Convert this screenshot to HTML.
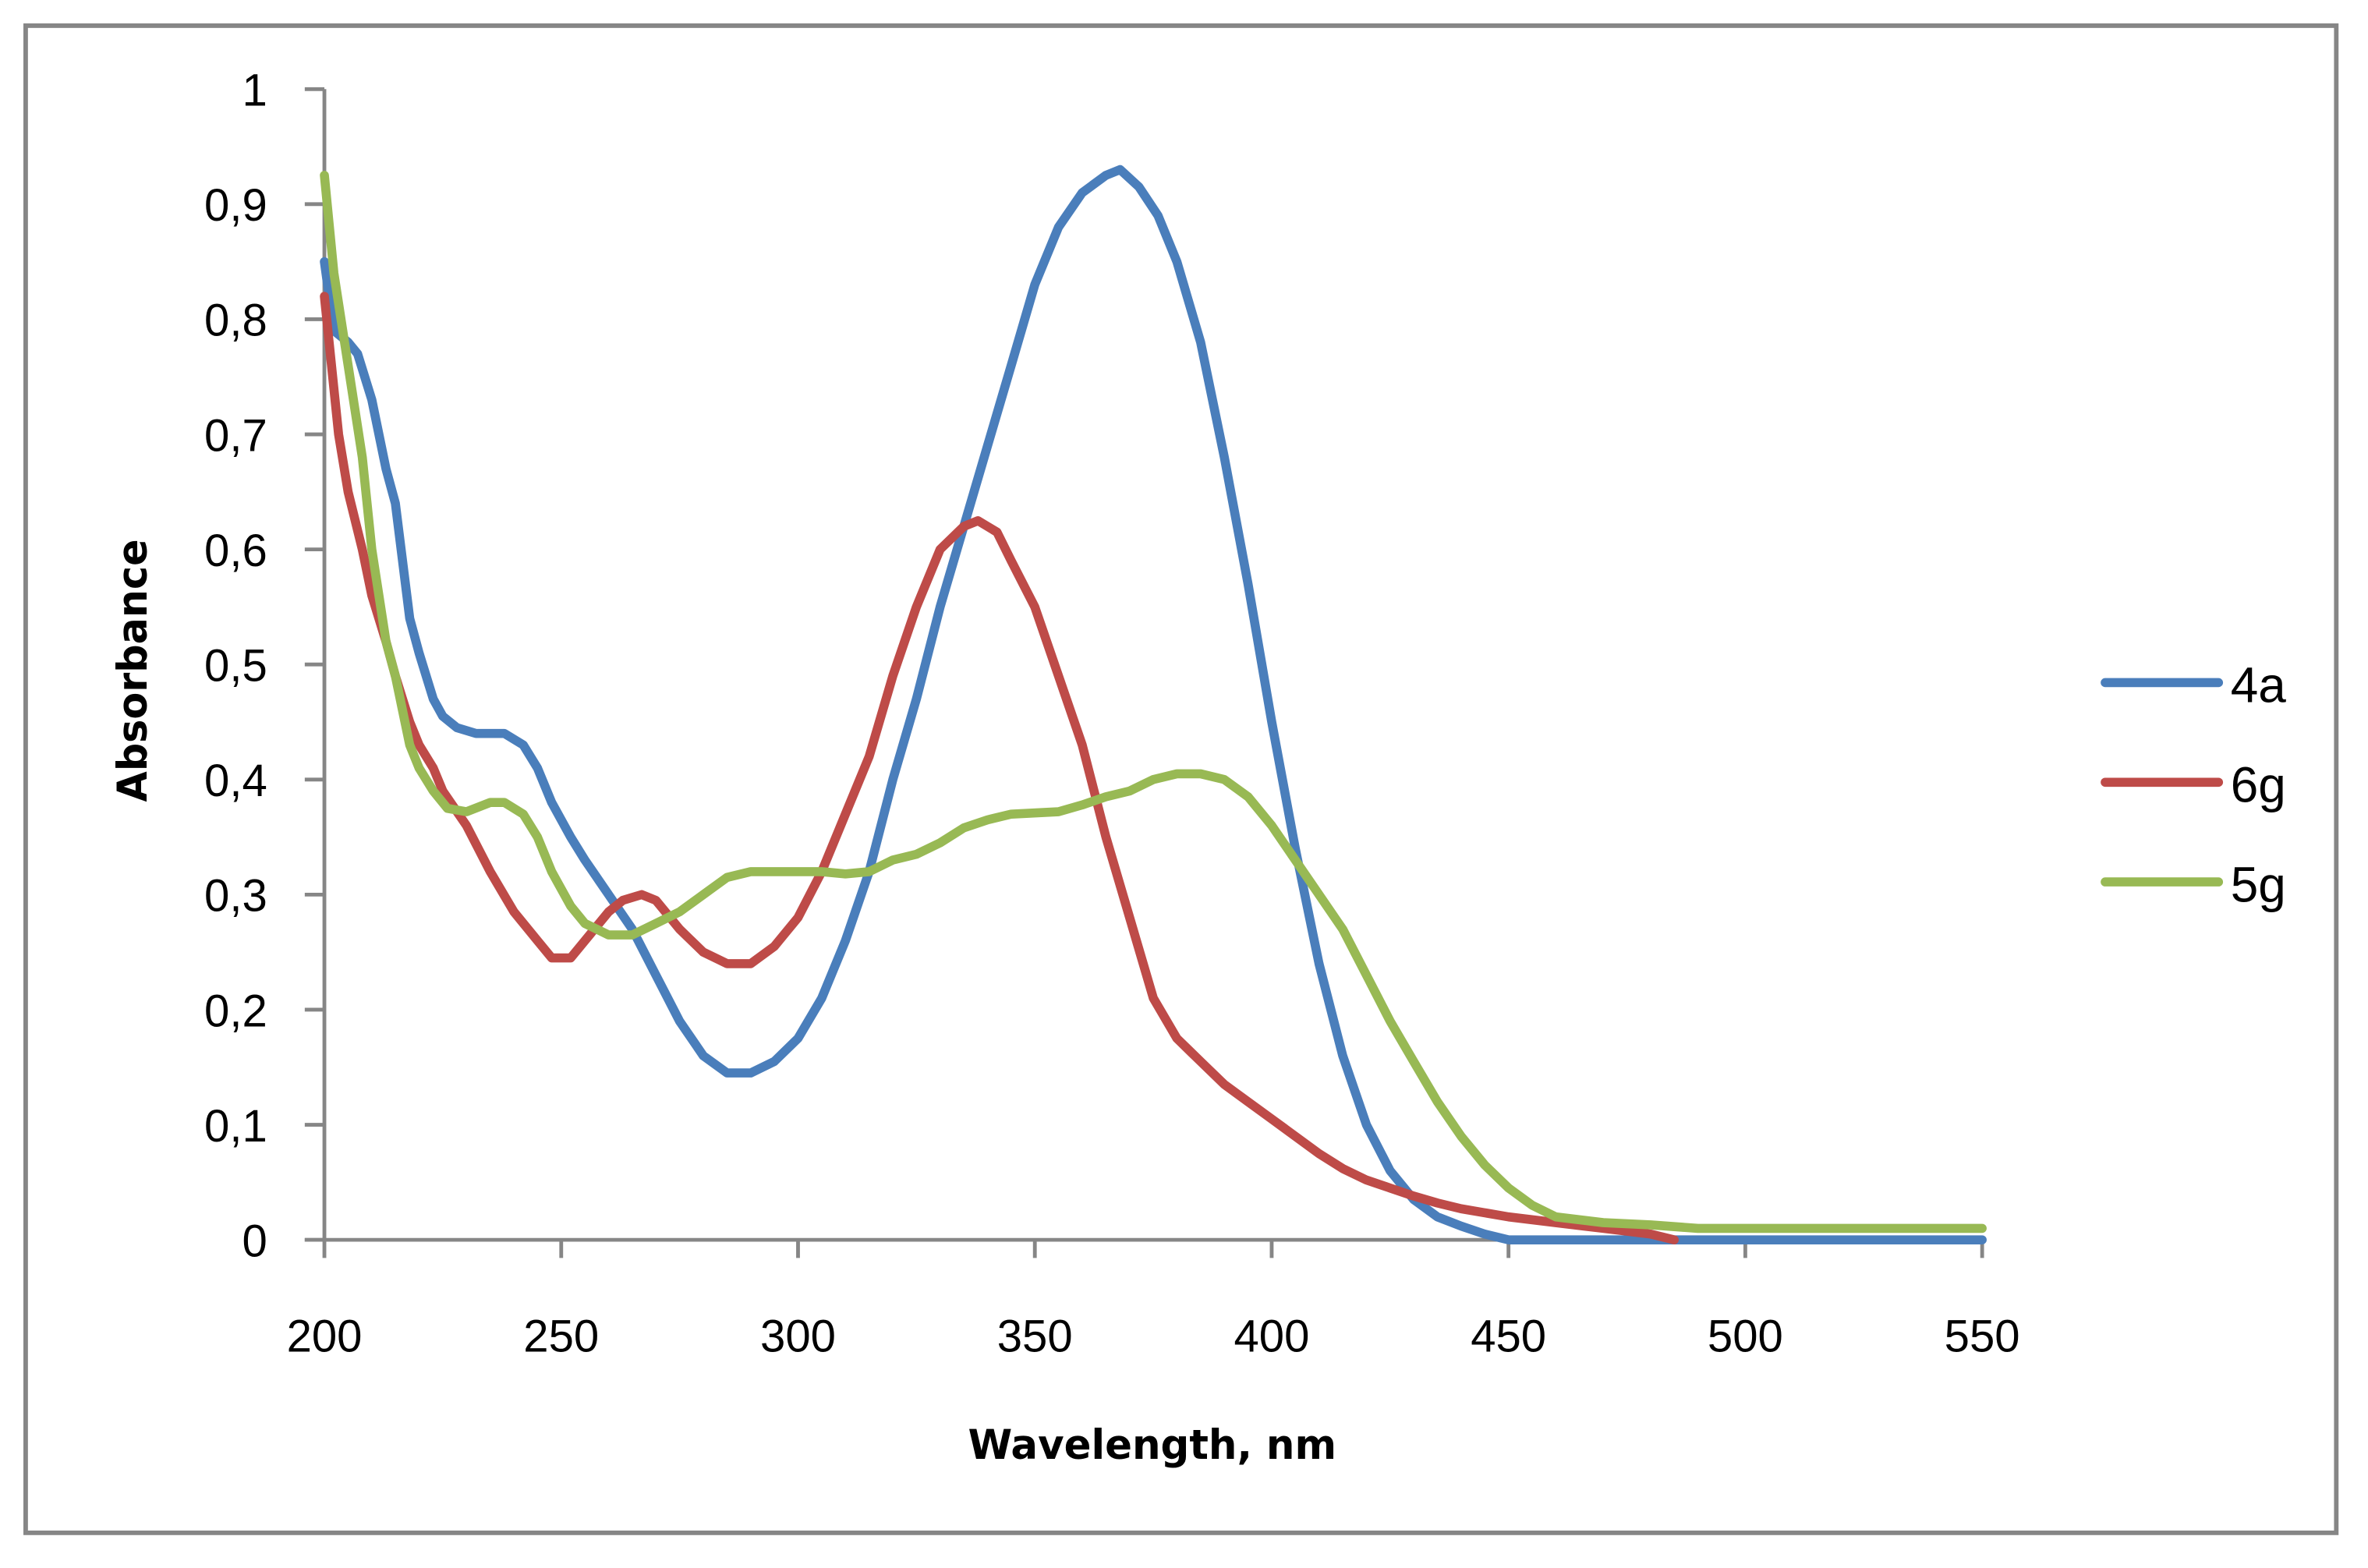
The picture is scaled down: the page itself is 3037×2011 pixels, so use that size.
<!DOCTYPE html>
<html><head><meta charset="utf-8">
<style>html,body{margin:0;padding:0;background:#fff}svg{display:block}</style>
</head><body>
<svg id="chart" width="3037" height="2011" viewBox="0 0 1568 1038.3" preserveAspectRatio="none" xmlns="http://www.w3.org/2000/svg">
<rect x="17" y="17" width="1530" height="998" fill="#fff" stroke="#868686" stroke-width="3"/>
<g id="axes"></g>
<g id="series"></g>
<g id="legend"></g>
<text x="0" y="0" transform="translate(97,444) rotate(-90)" text-anchor="middle" font-family="'DejaVu Sans',sans-serif" font-weight="bold" font-size="27" textLength="174" lengthAdjust="spacingAndGlyphs">Absorbance</text>
<text x="763" y="966" text-anchor="middle" font-family="'DejaVu Sans',sans-serif" font-weight="bold" font-size="27" textLength="244" lengthAdjust="spacingAndGlyphs">Wavelength, nm</text>
</svg>
<script>
const xTicks=[200,250,300,350,400,450,500,550];
const yTicks=[0,0.1,0.2,0.3,0.4,0.5,0.6,0.7,0.8,0.9,1];
const yTickLabels=["0","0,1","0,2","0,3","0,4","0,5","0,6","0,7","0,8","0,9","1"];
const seriesNames=["4a","6g","5g"];
const seriesColors=["#4a7ebb","#be4b48","#98b954"];
const wl4a=[200,202,205,207,210,213,215,218,220,223,225,228,232,238,242,245,248,252,255,260,265,270,275,280,285,290,295,300,305,310,315,320,325,330,335,340,345,350,355,360,365,368,372,376,380,385,390,395,400,405,410,415,420,425,430,435,440,445,450,550];
const abs4a=[0.85,0.79,0.78,0.77,0.73,0.67,0.64,0.54,0.51,0.47,0.455,0.445,0.44,0.44,0.43,0.41,0.38,0.35,0.33,0.30,0.27,0.23,0.19,0.16,0.145,0.145,0.155,0.175,0.21,0.26,0.32,0.40,0.47,0.55,0.62,0.69,0.76,0.83,0.88,0.91,0.925,0.93,0.915,0.89,0.85,0.78,0.68,0.57,0.45,0.34,0.24,0.16,0.10,0.06,0.035,0.02,0.012,0.005,0,0];
const wl6g=[200,203,205,208,210,213,215,218,220,223,225,230,235,240,245,248,252,255,260,263,267,270,275,280,285,290,295,300,305,310,315,320,325,330,335,338,342,345,350,355,360,365,370,375,380,385,390,395,400,405,410,415,420,425,430,435,440,450,460,470,480,485];
const abs6g=[0.82,0.70,0.65,0.60,0.56,0.52,0.49,0.45,0.43,0.41,0.39,0.36,0.32,0.285,0.26,0.245,0.245,0.26,0.285,0.295,0.30,0.295,0.27,0.25,0.24,0.24,0.255,0.28,0.32,0.37,0.42,0.49,0.55,0.60,0.62,0.625,0.615,0.59,0.55,0.49,0.43,0.35,0.28,0.21,0.175,0.155,0.135,0.12,0.105,0.09,0.075,0.062,0.052,0.045,0.038,0.032,0.027,0.02,0.015,0.01,0.005,0];
const wl5g=[200,202,205,208,210,213,215,218,220,223,226,230,235,238,242,245,248,252,255,260,265,270,275,280,285,290,300,305,310,315,320,325,330,335,340,345,355,360,365,370,375,380,385,390,395,400,405,410,415,420,425,430,435,440,445,450,455,460,470,480,490,550];
const abs5g=[0.925,0.84,0.76,0.68,0.60,0.52,0.49,0.43,0.41,0.39,0.375,0.372,0.38,0.38,0.37,0.35,0.32,0.29,0.275,0.265,0.265,0.275,0.285,0.30,0.315,0.32,0.32,0.32,0.318,0.32,0.33,0.335,0.345,0.358,0.365,0.37,0.372,0.378,0.385,0.39,0.40,0.405,0.405,0.40,0.385,0.36,0.33,0.30,0.27,0.23,0.19,0.155,0.12,0.09,0.065,0.045,0.03,0.02,0.015,0.013,0.01,0.01];

const NS="http://www.w3.org/2000/svg";
const X0=214.8,X1=1312.5,Y0=821,Y1=59;
const xScale=v=>X0+(v-200)/(550-200)*(X1-X0);
const yScale=v=>Y0-v*(Y0-Y1);
function mk(tag,attrs,parent){const e=document.createElementNS(NS,tag);for(const k in attrs)e.setAttribute(k,attrs[k]);parent.appendChild(e);return e;}
const axes=document.getElementById('axes');
const ya=mk('line',{x1:X0,y1:Y1,x2:X0,y2:Y0,stroke:'#868686','stroke-width':2.5},axes);


const xa=mk('line',{x1:X0-13,y1:Y0,x2:X1,y2:Y0,stroke:'#868686','stroke-width':2.5},axes);


yTicks.forEach((v,i)=>{
  const t=mk('line',{x1:X0-13,y1:yScale(v),x2:X0,y2:yScale(v),stroke:'#868686','stroke-width':2.5},axes);
  
  
  const l=mk('text',{x:177,y:yScale(v)+11,'text-anchor':'end','font-family':"'Liberation Sans',sans-serif",'font-size':30},axes);
  l.textContent=yTickLabels[i];
  
  
});
xTicks.forEach(v=>{
  const t=mk('line',{x1:xScale(v),y1:Y0,x2:xScale(v),y2:Y0+12,stroke:'#868686','stroke-width':2.5},axes);
  
  
  const l=mk('text',{x:xScale(v),y:Y0+74,'text-anchor':'middle','font-family':"'Liberation Sans',sans-serif",'font-size':30},axes);
  l.textContent=String(v);
  
  
});
const ser=document.getElementById('series');
const data=[[wl4a,abs4a],[wl6g,abs6g],[wl5g,abs5g]];
data.forEach((d,i)=>{
  const pts=d[0].map((w,j)=>xScale(w).toFixed(1)+','+yScale(d[1][j]).toFixed(1)).join(' ');
  const p=mk('polyline',{points:pts,fill:'none',stroke:seriesColors[i],'stroke-width':6,'stroke-linejoin':'round','stroke-linecap':'round'},ser);
  
  
});
const leg=document.getElementById('legend');
const legY=[452,518,584];
seriesNames.forEach((n,i)=>{
  const l=mk('line',{x1:1394,y1:legY[i],x2:1469,y2:legY[i],stroke:seriesColors[i],'stroke-width':6,'stroke-linecap':'round'},leg);
  
  
  const t=mk('text',{x:1477,y:legY[i]+13,'font-family':"'Liberation Sans',sans-serif",'font-size':33},leg);
  t.textContent=n;
  
  
});
</script>
</body></html>
